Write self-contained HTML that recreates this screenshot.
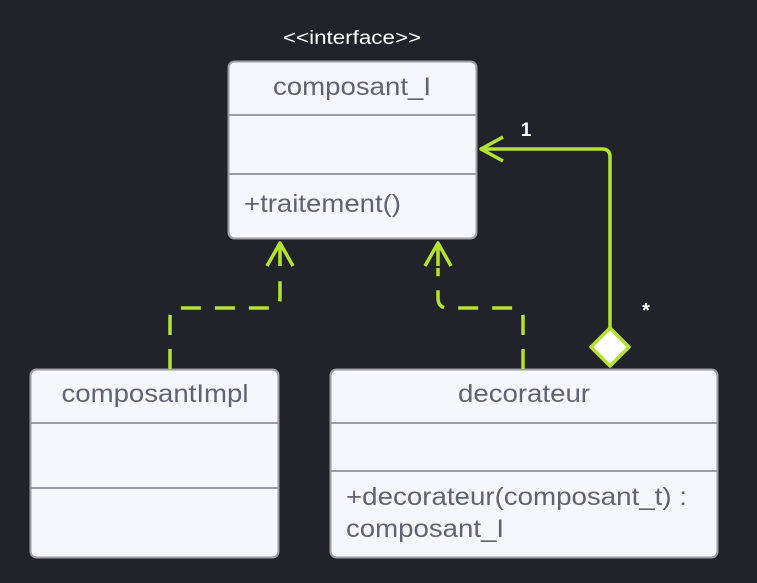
<!DOCTYPE html>
<html><head><style>html,body{margin:0;padding:0;background:#202329;}svg{display:block}</style></head>
<body>
<svg width="757" height="583" viewBox="0 0 757 583" xmlns="http://www.w3.org/2000/svg" font-family="Liberation Sans, sans-serif">
<rect width="757" height="583" fill="#202329"/>
<g fill="#f4f8fd" stroke="#9a9da3" stroke-width="2">
<rect x="228.5" y="61.5" width="248" height="177" rx="6"/>
<line x1="229" y1="115" x2="476" y2="115"/>
<line x1="229" y1="174" x2="476" y2="174"/>
<rect x="30.5" y="369.5" width="248" height="188" rx="6"/>
<line x1="31" y1="423" x2="278" y2="423"/>
<line x1="31" y1="488" x2="278" y2="488"/>
<rect x="330.5" y="369.5" width="387" height="188" rx="6"/>
<line x1="331" y1="423" x2="717" y2="423"/>
<line x1="331" y1="471" x2="717" y2="471"/>
</g>
<g fill="#5f6470" font-size="25">
<text x="352" y="95" text-anchor="middle" textLength="158" lengthAdjust="spacingAndGlyphs">composant_I</text>
<text x="244" y="212" textLength="157" lengthAdjust="spacingAndGlyphs">+traitement()</text>
<text x="155" y="402" text-anchor="middle" textLength="187" lengthAdjust="spacingAndGlyphs">composantImpl</text>
<text x="524" y="402" text-anchor="middle" textLength="132" lengthAdjust="spacingAndGlyphs">decorateur</text>
<text x="346" y="505" textLength="341" lengthAdjust="spacingAndGlyphs">+decorateur(composant_t) :</text>
<text x="346" y="537" textLength="158" lengthAdjust="spacingAndGlyphs">composant_I</text>
</g>
<text x="352" y="44" text-anchor="middle" fill="#ffffff" font-size="19" textLength="138" lengthAdjust="spacingAndGlyphs">&lt;&lt;interface&gt;&gt;</text>
<g fill="none" stroke="#b5e131" stroke-width="3.5" stroke-linejoin="round" stroke-linecap="butt">
<path d="M170 369 V318 Q170 308 180 308 H270 Q280 308 280 298 V268" stroke-dasharray="20 14"/>
<path d="M523 369 V318 Q523 308 513 308 H448 Q438 308 438 298 V268" stroke-dasharray="20 14"/>
<path d="M267 266 L280 243 L293 266 M280 243 V266"/>
<path d="M425 266 L438 243 L451 266 M438 243 V266"/>
<path d="M610 328 V157 Q610 149 602 149 H480"/>
<path d="M503 137 L481 149 L503 161"/>
<path d="M610 328 L629 347 L610 366 L591 347 Z" fill="#ffffff"/>
</g>
<text x="526" y="136" fill="#ffffff" font-size="19" font-weight="bold" text-anchor="middle">1</text>
<text x="646" y="317" fill="#ffffff" font-size="20" font-weight="bold" text-anchor="middle">*</text>
</svg>
</body></html>
